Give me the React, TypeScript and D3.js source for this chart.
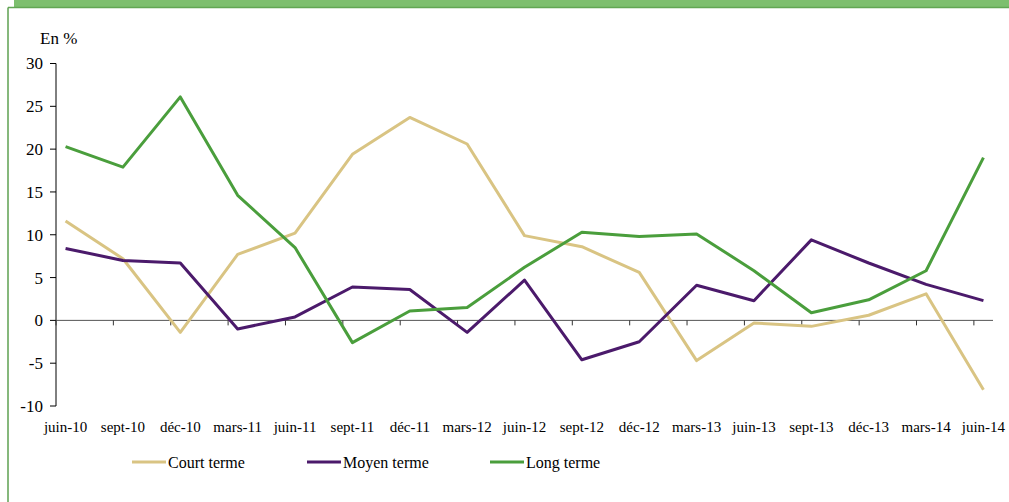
import React from 'react';
import * as d3 from 'd3';

const categories = [
    'juin-10', 'sept-10', 'déc-10', 'mars-11', 'juin-11', 'sept-11', 'déc-11', 'mars-12', 'juin-12',
    'sept-12', 'déc-12', 'mars-13', 'juin-13', 'sept-13', 'déc-13', 'mars-14', 'juin-14',
];
const courtTerme = [11.6, 7.2, -1.4, 7.7, 10.2, 19.4, 23.7, 20.6, 9.9, 8.6, 5.6, -4.7, -0.3, -0.7, 0.6, 3.1, -8.1];
const moyenTerme = [8.4, 7.0, 6.7, -1.0, 0.4, 3.9, 3.6, -1.4, 4.7, -4.6, -2.5, 4.1, 2.3, 9.4, 6.7, 4.2, 2.3];
const longTerme = [20.3, 17.9, 26.1, 14.6, 8.5, -2.6, 1.1, 1.5, 6.2, 10.3, 9.8, 10.1, 5.8, 0.9, 2.4, 5.8, 19.0];
const yTicks = [30, 25, 20, 15, 10, 5, 0, -5, -10];

const W = 1009;
const H = 502;
const FONT = "'Liberation Serif', 'Times New Roman', Tinos, 'DejaVu Serif', serif";

const series = [
    { name: 'Court terme', values: courtTerme, color: '#D9C483' },
    { name: 'Moyen terme', values: moyenTerme, color: '#4B1A6B' },
    { name: 'Long terme', values: longTerme, color: '#4A9E3C' },
];

// date-like axis: one unit per month, quarterly ticks, points mid-month
const x = d3.scaleLinear().domain([0, categories.length * 3 - 2]).range([56, 993]);
const y = d3.scaleLinear().domain([-10, 30]).range([406, 63.5]);

const App: React.FC = () => {
    const line = (vals: number[]) =>
        d3.line<number>()
            .x((_d, i) => x(i * 3 + 0.5))
            .y(d => y(d))(vals) || '';

    const legendX = [132, 307, 490];

    return (
        <svg width={W} height={H} viewBox={`0 0 ${W} ${H}`}
            style={{ position: 'absolute', left: 0, top: 0, display: 'block', background: '#fff', fontFamily: FONT }}>
            {/* frame */}
            <rect x={14} y={0} width={W - 14} height={7} fill="#7DBF6E" />
            <line x1={8} x2={W} y1={7.5} y2={7.5} stroke="#62A653" strokeWidth={1.5} />
            <line x1={8} x2={8} y1={7.5} y2={H} stroke="#5EA050" strokeWidth={1.5} />

            <text x={40} y={44} style={{ fontFamily: FONT }} fontSize={17} fill="#000">En %</text>

            {/* y axis */}
            <line x1={56} x2={56} y1={y(30)} y2={y(-10)} stroke="#000" strokeWidth={1} />
            {yTicks.map(t => (
                <g key={t}>
                    <line x1={50} x2={56} y1={y(t)} y2={y(t)} stroke="#000" strokeWidth={1} />
                    <text x={43} y={y(t)} dy="0.35em" textAnchor="end" style={{ fontFamily: FONT }} fontSize={17} fill="#000">{t}</text>
                </g>
            ))}

            {/* x axis on zero */}
            <line x1={56} x2={993} y1={y(0)} y2={y(0)} stroke="#555" strokeWidth={1} />
            {categories.map((c, i) => (
                <g key={c}>
                    <line x1={x(i * 3)} x2={x(i * 3)} y1={y(0)} y2={y(0) + 5} stroke="#333" strokeWidth={1} />
                    <text x={x(i * 3 + 0.5)} y={432} textAnchor="middle" style={{ fontFamily: FONT }} fontSize={15} fill="#000">{c}</text>
                </g>
            ))}

            {series.map(s => (
                <path key={s.name} d={line(s.values)} fill="none" stroke={s.color} strokeWidth={3} strokeLinejoin="round" />
            ))}

            {/* legend */}
            {series.map((s, i) => (
                <g key={s.name}>
                    <line x1={legendX[i]} x2={legendX[i] + 34} y1={462} y2={462} stroke={s.color} strokeWidth={3} />
                    <text x={legendX[i] + 36} y={468} style={{ fontFamily: FONT }} fontSize={16} fill="#000">{s.name}</text>
                </g>
            ))}
        </svg>
    );
};

export default App;
